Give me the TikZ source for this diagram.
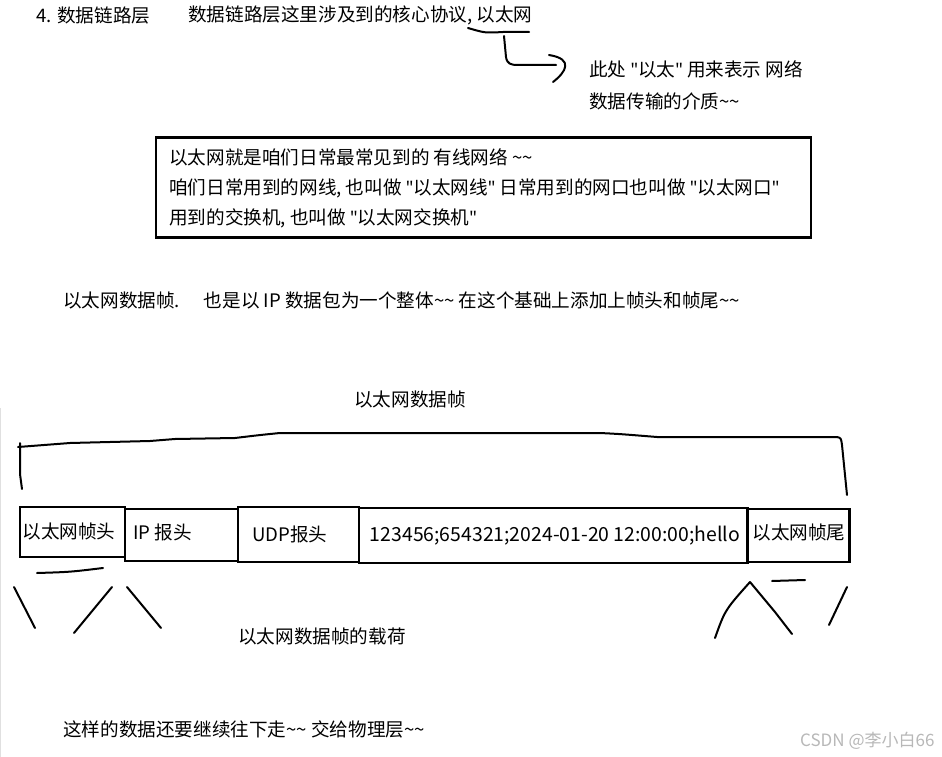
\documentclass[tikz,border=0pt]{standalone}
\usepackage{fontspec}
\setmainfont{Noto Sans CJK SC}[Ligatures=ResetAll]
\newfontfamily\quotefont{Noto Sans}[Ligatures=ResetAll]
\newcommand\mytilde{\string~}
\newcommand\dq{{\quotefont\char34\relax}}
\tikzset{
  lbl/.style={inner sep=0pt, anchor=west, font=\fontsize{18.6}{22}\selectfont, text=black},
  framebox/.style={draw=black, line width=2.6pt, inner sep=0pt},
  hand/.style={draw=black, line width=2pt, line cap=round, line join=round},
}
\begin{document}
\begin{tikzpicture}[x=1pt, y=-1pt]
\useasboundingbox[fill=white] (0,0) rectangle (942,757);
\draw[black!12, line width=1pt] (0.5,408) -- (0.5,757);

% header
\node[lbl] (title) at (36,15) {4. 数据链路层};
\node[lbl] (intro) at (188,15) {数据链路层这里涉及到的核心协议, 以太网};
\node[lbl] (note1) at (589,69) {此处 \dq{}以太\dq{} 用来表示 网络};
\node[lbl] (note2) at (589,101) {数据传输的介质\mytilde{}\mytilde{}};

% hand arrow from underline to note
\coordinate (u1) at (468,28);
\coordinate (u2) at (529,32);
\coordinate (a1) at (504,36);
\coordinate (a2) at (556,65);
\draw[hand] (u1) .. controls (485,33) .. (503,32) -- (u2);
\draw[hand] (a1) -- (506,57) .. controls (507,64) and (511,65) .. (518,65) -- (a2);
\draw[hand] (549,55) .. controls (574,59) and (566,72) .. (553,82);

% explanation box
\node[framebox, minimum width=655pt, minimum height=100pt] (expl) at (483.5,187.5) {};
\node[lbl] (e1) at (169,157) {以太网就是咱们日常最常见到的 有线网络 \mytilde{}\mytilde{}};
\node[lbl] (e2) at (169,188) {咱们日常用到的网线, 也叫做 \dq{}以太网线\dq{} 日常用到的网口也叫做 \dq{}以太网口\dq{}};
\node[lbl] (e3) at (169,218) {用到的交换机, 也叫做 \dq{}以太网交换机\dq{}};

\node[lbl] (frame) at (63,300) {以太网数据帧.\hspace{24pt}也是以 IP 数据包为一个整体\mytilde{}\mytilde{} 在这个基础上添加上帧头和帧尾\mytilde{}\mytilde{}};

% frame label and brace
\node[lbl, anchor=center] (ftitle) at (410,399) {以太网数据帧};
\draw[hand] (20,443) -- (20,474) -- (22,489);
\draw[hand] (18,447) -- (70,443) -- (150,441) -- (175,439) -- (235,438)
  .. controls (260,435) .. (280,433) -- (600,433) .. controls (620,434) .. (657,437)
  -- (837,437) .. controls (841,438) .. (842,445) -- (847,495);

% frame boxes
\node[framebox, minimum width=105pt, minimum height=50pt] (b1) at (72.5,532) {};
\node[framebox, line width=2.2pt, minimum width=113pt, minimum height=52pt] (b2) at (181.5,535) {};
\node[framebox, minimum width=121pt, minimum height=55pt] (b3) at (298.5,534.5) {};
\node[framebox, minimum width=389pt, minimum height=55pt] (b4) at (553.5,535.5) {};
\node[framebox, line width=2.2pt, minimum width=102pt, minimum height=53pt] (b5) at (798.5,535.5) {};
\node[lbl, anchor=center] (t1) at (69,531) {以太网帧头};
\node[lbl] (t2) at (133,532) {IP 报头};
\node[lbl] (t3) at (252,534) {UDP报头};
\node[lbl, anchor=center, font=\fontsize{19.4}{23}\selectfont] (t4) at (555,536) {123456;654321;2024-01-20 12:00:00;hello};
\node[lbl, anchor=center] (t5) at (799,532) {以太网帧尾};

% hand strokes under the frame
\draw[hand] (37,573) .. controls (70,572) .. (103,568);
\draw[hand] (14,587) -- (35,628);
\draw[hand] (74,633) -- (112,587);
\draw[hand] (127,587) -- (161,628);
\draw[hand] (772,581) -- (805,580);
\draw[hand] (715,638) .. controls (725,610) .. (750,582);
\draw[hand] (750,582) -- (775,612) -- (792,634);
\draw[hand] (847,587) -- (829,625);

\node[lbl] (payload) at (238,636) {以太网数据帧的载荷};
\node[lbl] (bottom) at (63,729) {这样的数据还要继续往下走\mytilde{}\mytilde{} 交给物理层\mytilde{}\mytilde{}};
\node[lbl, text=black!28, font=\fontsize{17}{20}\selectfont] (wm) at (800,741) {CSDN @李小白66};
\end{tikzpicture}
\end{document}
